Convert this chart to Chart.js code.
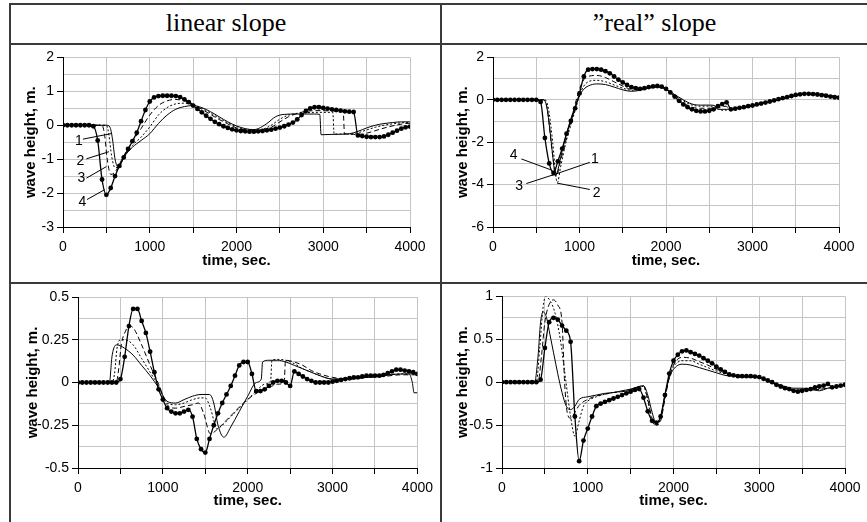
<!DOCTYPE html>
<html lang="en">
<head>
<meta charset="UTF-8" />
<title>wave height</title>
<script src="https://cdn.jsdelivr.net/npm/chart.js@4"></script>
<style>
body{margin:0;background:#fff;width:867px;height:522px;overflow:hidden;position:relative;font-family:"Liberation Sans",Arial,sans-serif}
.ln{position:absolute;background:#3a3a3a}
.hd{position:absolute;top:4px;height:38px;line-height:38px;text-align:center;font-family:"Liberation Serif","Times New Roman",serif;font-size:26px;color:#000}
.pn{position:absolute}
</style>
</head>
<body>
<div class="hd" style="left:11px;width:430px">linear slope</div>
<div class="hd" style="left:442px;width:425px">”real” slope</div>

<div class="ln" style="left:9px;top:3px;width:858px;height:2px"></div>
<div class="ln" style="left:9px;top:3px;width:2px;height:519px"></div>
<div class="ln" style="left:9px;top:43px;width:858px;height:2px"></div>
<div class="ln" style="left:440px;top:3px;width:2px;height:519px"></div>
<div class="ln" style="left:9px;top:282px;width:858px;height:2px"></div>

<div class="pn" style="left:12px;top:46px;width:427px;height:235px"><canvas id="c1"></canvas></div>
<div class="pn" style="left:443px;top:46px;width:424px;height:235px"><canvas id="c2"></canvas></div>
<div class="pn" style="left:12px;top:285px;width:427px;height:237px"><canvas id="c3"></canvas></div>
<div class="pn" style="left:443px;top:285px;width:424px;height:237px"><canvas id="c4"></canvas></div>

<script>
// time grid of the dotted curve (series 4), sec.
const time50 = [0,50,100,150,200,250,300,350,400,450,500,550,600,650,700,750,800,850,900,950,
  1000,1050,1100,1150,1200,1250,1300,1350,1400,1450,1500,1550,1600,1650,1700,1750,1800,1850,1900,1950,
  2000,2050,2100,2150,2200,2250,2300,2350,2400,2450,2500,2550,2600,2650,2700,2750,2800,2850,2900,2950,
  3000,3050,3100,3150,3200,3250,3300,3350,3400,3450,3500,3550,3600,3650,3700,3750,3800,3850,3900,3950,4000];

// ---- linear slope, top
const p1t1 = [0,500,540,570,600,640,700,800,900,1000,1100,1200,1300,1400,1500,1600,1700,1800,1900,2000,2100,2200,2250,2350,2450,2550,2700,2900,2960,2975,3100,3300,3400,3500,3600,3700,3800,3900,4000];
const p1y1 = [0,0,-0.05,-0.4,-1.0,-1.25,-0.95,-0.65,-0.45,-0.25,0.05,0.3,0.47,0.55,0.58,0.52,0.4,0.25,0.1,-0.02,-0.1,-0.13,-0.1,0.05,0.25,0.32,0.33,0.33,0.32,-0.28,-0.27,-0.25,-0.18,-0.08,0,0.05,0.08,0.1,0.1];
const p1t2 = [0,500,530,560,600,640,700,800,900,1000,1100,1200,1300,1400,1500,1600,1700,1800,1900,2000,2100,2200,2300,2400,2500,2600,2700,2800,2900,3000,3110,3125,3300,3400,3500,3600,3700,3800,3900,4000];
const p1y2 = [0,0,-0.3,-0.9,-1.25,-1.25,-0.95,-0.6,-0.35,-0.05,0.3,0.52,0.63,0.65,0.6,0.5,0.36,0.21,0.07,-0.04,-0.12,-0.15,-0.12,0,0.18,0.3,0.35,0.37,0.38,0.38,0.38,-0.26,-0.26,-0.22,-0.14,-0.06,0,0.04,0.07,0.08];
const p1t3 = [0,450,480,510,550,600,700,800,900,1000,1100,1200,1300,1400,1500,1600,1700,1800,1900,2000,2100,2200,2300,2400,2500,2600,2700,2800,2900,3000,3100,3230,3245,3350,3450,3550,3650,3750,3850,3950,4000];
const p1y3 = [0,0,-0.3,-1.0,-1.45,-1.38,-0.9,-0.5,-0.1,0.3,0.58,0.72,0.76,0.72,0.62,0.47,0.32,0.17,0.04,-0.08,-0.14,-0.17,-0.15,-0.06,0.1,0.25,0.35,0.41,0.43,0.43,0.42,0.4,-0.25,-0.27,-0.26,-0.2,-0.12,-0.05,0.01,0.05,0.06];
const p1y4 = [0,0,0,0,0,0,0,-0.03,-0.45,-1.6,
  -2.05,-1.85,-1.5,-1.2,-0.95,-0.7,-0.47,-0.22,0.12,0.45,
  0.7,0.82,0.86,0.87,0.87,0.87,0.86,0.83,0.76,0.68,
  0.58,0.48,0.38,0.28,0.19,0.1,0.03,-0.03,-0.08,-0.12,
  -0.15,-0.17,-0.18,-0.19,-0.19,-0.18,-0.17,-0.15,-0.13,-0.1,
  -0.07,-0.03,0.02,0.08,0.17,0.3,0.42,0.5,0.53,0.53,
  0.51,0.49,0.47,0.45,0.43,0.41,0.4,0.39,-0.3,-0.32,
  -0.34,-0.35,-0.35,-0.35,-0.33,-0.28,-0.22,-0.16,-0.1,-0.06,
  -0.04];

// ---- real slope, top
const p2t1 = [0,580,620,660,700,720,750,800,850,900,950,1000,1050,1100,1200,1300,1400,1500,1600,1700,1800,1900,2000,2100,2200,2300,2400,2500,2560,2600,2700,2800,2900,3000,3200,3400,3600,3800,4000];
const p2y1 = [0,0,-0.3,-1.5,-3.0,-3.6,-3.3,-2.4,-1.6,-0.9,-0.3,0.2,0.5,0.65,0.75,0.72,0.6,0.47,0.4,0.45,0.55,0.6,0.5,0.25,0,-0.2,-0.25,-0.25,-0.27,-0.45,-0.45,-0.4,-0.33,-0.28,-0.1,0.1,0.28,0.25,0.12];
const p2t2 = [0,600,640,690,730,745,780,850,900,950,1000,1050,1100,1200,1300,1400,1500,1600,1700,1800,1900,2000,2100,2200,2300,2400,2500,2600,2650,2750,2900,3000,3200,3400,3600,3800,4000];
const p2y2 = [0,0,-0.4,-2.0,-3.7,-3.9,-3.2,-1.9,-1.2,-0.5,0.2,0.65,0.85,0.92,0.85,0.7,0.55,0.45,0.48,0.55,0.6,0.5,0.2,-0.05,-0.25,-0.3,-0.3,-0.32,-0.5,-0.45,-0.35,-0.28,-0.1,0.1,0.28,0.25,0.12];
const p2t3 = [0,590,630,680,720,740,780,850,900,950,1000,1050,1100,1200,1300,1400,1500,1600,1700,1800,1900,2000,2100,2200,2300,2400,2500,2600,2700,2720,2800,2900,3000,3200,3400,3600,3800,4000];
const p2y3 = [0,0,-0.5,-2.3,-3.4,-3.5,-2.9,-1.8,-1.0,-0.2,0.5,0.95,1.1,1.15,1.05,0.85,0.65,0.5,0.5,0.58,0.62,0.5,0.15,-0.15,-0.35,-0.4,-0.4,-0.38,-0.3,-0.45,-0.42,-0.35,-0.28,-0.1,0.1,0.28,0.25,0.12];
const p2y4 = [0,0,0,0,0,0,0,0,0,0,
  0,-0.1,-1.8,-3.0,-3.45,-2.9,-2.3,-1.6,-1.0,-0.4,
  0.3,1.1,1.42,1.45,1.45,1.42,1.35,1.25,1.1,0.95,
  0.82,0.7,0.6,0.55,0.52,0.55,0.6,0.63,0.65,0.62,
  0.52,0.35,0.15,-0.05,-0.22,-0.35,-0.45,-0.52,-0.55,-0.55,
  -0.52,-0.45,-0.3,-0.2,-0.12,-0.45,-0.42,-0.38,-0.35,-0.3,
  -0.27,-0.22,-0.18,-0.13,-0.08,-0.03,0.03,0.08,0.13,0.18,
  0.23,0.26,0.28,0.28,0.27,0.25,0.22,0.19,0.15,0.12,
  0.1];

// ---- linear slope, bottom
const p3t1 = [0,370,400,430,460,550,650,750,850,950,1050,1150,1250,1350,1450,1550,1600,1650,1720,1800,1900,2000,2100,2160,2175,2250,2350,2450,2550,2650,2750,2850,3000,3200,3400,3600,3800,3900,3940,3960,4000];
const p3y1 = [0,0,0.15,0.21,0.22,0.2,0.16,0.1,0.04,-0.03,-0.11,-0.12,-0.1,-0.08,-0.07,-0.07,-0.12,-0.25,-0.32,-0.26,-0.17,-0.08,0,0.02,0.12,0.13,0.13,0.12,0.1,0.08,0.06,0.04,0.02,0.02,0.03,0.04,0.05,0.05,0.0,-0.06,-0.06];
const p3t2 = [0,400,430,460,500,550,650,750,850,950,1050,1150,1250,1350,1450,1500,1560,1640,1700,1800,1900,2000,2100,2200,2270,2285,2350,2450,2550,2650,2750,2850,3000,3200,3400,3600,3800,4000];
const p3y2 = [0,0,0.05,0.2,0.25,0.25,0.22,0.14,0.06,-0.02,-0.12,-0.13,-0.12,-0.1,-0.09,-0.09,-0.15,-0.27,-0.25,-0.2,-0.15,-0.1,-0.05,-0.01,0.01,0.13,0.135,0.13,0.11,0.08,0.06,0.04,0.02,0.02,0.03,0.04,0.05,0.05];
const p3t3 = [0,450,480,510,560,600,650,750,850,950,1050,1150,1250,1350,1420,1480,1560,1650,1750,1850,1950,2050,2150,2250,2350,2430,2445,2550,2650,2750,2850,3000,3200,3400,3600,3800,4000];
const p3y3 = [0,0,0.08,0.22,0.3,0.33,0.32,0.22,0.1,-0.01,-0.13,-0.15,-0.14,-0.13,-0.12,-0.18,-0.3,-0.27,-0.22,-0.17,-0.12,-0.08,-0.05,-0.03,-0.01,0.0,0.13,0.12,0.1,0.07,0.05,0.03,0.02,0.03,0.035,0.045,0.045];
const p3y4 = [0,0,0,0,0,0,0,0,0,0,
  0.02,0.15,0.33,0.43,0.43,0.36,0.29,0.18,0.06,-0.04,
  -0.1,-0.15,-0.17,-0.18,-0.18,-0.17,-0.16,-0.2,-0.33,-0.39,
  -0.41,-0.33,-0.25,-0.18,-0.12,-0.07,-0.02,0.04,0.1,0.12,
  0.12,0.05,-0.05,-0.05,-0.04,-0.02,0,0.01,0.01,0,
  -0.02,0.065,0.05,0.035,0.02,0.01,0,0,0,0,
  0.005,0.01,0.015,0.02,0.025,0.03,0.03,0.035,0.04,0.04,
  0.04,0.04,0.045,0.055,0.065,0.075,0.075,0.07,0.065,0.06,
  0.05];

// ---- real slope, bottom
const p4t1 = [0,380,420,450,480,520,560,600,650,700,750,800,850,900,1000,1100,1200,1300,1400,1500,1600,1650,1700,1750,1800,1850,1900,1950,2000,2100,2200,2300,2400,2500,2600,2700,2800,2900,3000,3100,3200,3300,3400,3500,3600,3700,3800,3900,4000];
const p4y1 = [0,0,0.3,0.7,0.82,0.75,0.55,0.35,0.1,-0.12,-0.28,-0.32,-0.28,-0.2,-0.17,-0.15,-0.13,-0.12,-0.1,-0.08,-0.05,-0.04,-0.15,-0.35,-0.48,-0.4,-0.15,0.05,0.15,0.21,0.2,0.17,0.14,0.11,0.08,0.07,0.06,0.06,0.05,0.02,-0.02,-0.05,-0.07,-0.07,-0.08,-0.1,-0.07,-0.05,-0.03];
const p4t2 = [0,400,440,480,510,560,620,680,740,800,850,900,950,1000,1100,1200,1300,1400,1500,1600,1650,1700,1750,1800,1850,1900,1950,2000,2100,2200,2300,2400,2500,2600,2700,2800,3000,3200,3400,3600,3800,4000];
const p4y2 = [0,0,0.4,0.88,1.0,0.95,0.8,0.5,0.05,-0.4,-0.63,-0.45,-0.28,-0.22,-0.17,-0.14,-0.12,-0.11,-0.09,-0.05,-0.05,-0.22,-0.45,-0.5,-0.42,-0.18,0.06,0.18,0.25,0.25,0.21,0.17,0.13,0.1,0.08,0.07,0.05,-0.03,-0.09,-0.09,-0.07,-0.03];
const p4t3 = [0,420,460,500,540,600,650,700,730,760,800,850,900,1000,1100,1200,1300,1400,1500,1600,1650,1700,1750,1800,1850,1900,1950,2000,2100,2200,2300,2400,2500,2600,2700,2800,3000,3200,3400,3600,3800,4000];
const p4y3 = [0,0,0.3,0.7,0.88,0.96,0.9,0.7,0.0,-0.35,-0.42,-0.35,-0.27,-0.2,-0.16,-0.14,-0.12,-0.11,-0.09,-0.05,-0.04,-0.2,-0.42,-0.5,-0.45,-0.2,0.05,0.2,0.29,0.28,0.24,0.2,0.15,0.11,0.08,0.07,0.05,-0.03,-0.09,-0.09,-0.07,-0.03];
const p4y4 = [0,0,0,0,0,0,0,0,0,0.03,
  0.4,0.7,0.75,0.73,0.66,0.6,0.47,-0.4,-0.92,-0.68,
  -0.54,-0.4,-0.28,-0.25,-0.23,-0.21,-0.19,-0.17,-0.15,-0.13,
  -0.11,-0.09,-0.08,-0.18,-0.34,-0.45,-0.47,-0.4,-0.15,0.1,
  0.25,0.32,0.36,0.37,0.35,0.33,0.31,0.28,0.25,0.22,
  0.18,0.15,0.12,0.09,0.08,0.07,0.07,0.07,0.07,0.065,
  0.06,0.04,0.02,0,-0.03,-0.05,-0.07,-0.08,-0.1,-0.11,
  -0.1,-0.09,-0.08,-0.06,-0.05,-0.04,-0.02,-0.06,-0.05,-0.04,
  -0.03];

// curve numbers with their leader lines (data units)
const p1NoteLabels = ['1','2','3','4'];
const p1NoteText = [[184,-0.47],[200,-1.05],[212,-1.57],[224,-2.26]];
const p1NoteFrom = [[230,-0.41],[270,-0.99],[270,-1.56],[277,-2.19]];
const p1NoteTo = [[558,-0.245],[530,-0.78],[500,-1.22],[480,-1.9]];
const p2NoteLabels = ['4','1','3','2'];
const p2NoteText = [[240,-2.59],[1177,-2.79],[301,-4.08],[1197,-4.39]];
const p2NoteFrom = [[328,-2.79],[1119,-2.95],[386,-3.95],[1119,-4.23]];
const p2NoteTo = [[687,-3.33],[676,-3.57],[733,-3.49],[741,-3.93]];

const FONT = '"Liberation Sans", Arial, sans-serif';
Chart.defaults.font.family = FONT;
Chart.defaults.color = '#000';

const notePlugin = {
  id: 'notes',
  afterDatasetsDraw(chart, args, opts) {
    if (!opts.labels) return;
    const { ctx } = chart;
    const x = chart.scales.x, y = chart.scales.y;
    ctx.save();
    ctx.strokeStyle = '#000';
    ctx.lineWidth = 1;
    ctx.fillStyle = '#000';
    ctx.font = '14px ' + FONT;
    ctx.textAlign = 'center';
    ctx.textBaseline = 'middle';
    opts.labels.forEach((lab, i) => {
      ctx.beginPath();
      ctx.moveTo(x.getPixelForValue(opts.from[i][0]), y.getPixelForValue(opts.from[i][1]));
      ctx.lineTo(x.getPixelForValue(opts.to[i][0]), y.getPixelForValue(opts.to[i][1]));
      ctx.stroke();
      ctx.fillText(lab, x.getPixelForValue(opts.text[i][0]), y.getPixelForValue(opts.text[i][1]));
    });
    ctx.restore();
  }
};

const dashes = [[], [2, 2], [5, 3], []];

function makeSets(times, values) {
  return values.map((ys, i) => ({
    data: ys.map((v, j) => ({ x: times[i][j], y: v })),
    borderColor: '#000',
    borderWidth: i === 3 ? 1.3 : 1,
    borderDash: dashes[i],
    pointRadius: i === 3 ? 2.4 : 0,
    pointBackgroundColor: '#000',
    pointBorderWidth: 0,
    cubicInterpolationMode: 'monotone',
    fill: false
  }));
}

function isLabel(v, step) {
  const r = v / step;
  return Math.abs(r - Math.round(r)) < 1e-6;
}

function makePanel(id, times, values, p, notes) {
  new Chart(document.getElementById(id), {
    type: 'line',
    data: { datasets: makeSets(times, values) },
    plugins: [notePlugin],
    options: {
      responsive: true,
      maintainAspectRatio: false,
      animation: false,
      layout: { padding: { left: 0, right: p.padR, top: p.padT, bottom: 0 } },
      plugins: { legend: { display: false }, tooltip: { enabled: false }, notes: notes || {} },
      scales: {
        x: {
          type: 'linear', min: 0, max: 4000,
          ticks: { stepSize: 500, autoSkip: false, maxRotation: 0, padding: 6,
            font: { size: 14 }, callback: v => (v % 1000 === 0 ? String(v) : '') },
          grid: { color: '#c4c4c4', tickLength: 6, tickColor: '#000' },
          border: { color: '#000', width: 1 },
          title: { display: true, text: 'time, sec.', font: { size: 15, weight: 'bold' },
            padding: { top: 0, bottom: p.xTitleB } },
          afterFit: s => { s.height = p.xH; }
        },
        y: {
          min: p.yMin, max: p.yMax,
          ticks: { stepSize: p.yStep, autoSkip: false, padding: 3, font: { size: 14 },
            callback: v => (isLabel(v, p.yLab) ? String(+v.toFixed(3)) : '') },
          grid: { color: '#c4c4c4', tickLength: 6,
            tickColor: c => (c.tick && isLabel(c.tick.value, p.yLab) ? '#000' : 'rgba(0,0,0,0)') },
          border: { color: '#000', width: 1 },
          title: { display: true, text: 'wave height, m.', font: { size: 15, weight: 'bold' },
            padding: { top: p.yTitleT, bottom: 0 } },
          afterFit: s => { s.width = p.yW; }
        }
      }
    }
  });
}

makePanel('c1', [p1t1, p1t2, p1t3, time50], [p1y1, p1y2, p1y3, p1y4],
  { yMin: -3, yMax: 2, yStep: 0.5, yLab: 1, yW: 51, padT: 9, padR: 29, xH: 54, xTitleB: 11, yTitleT: 10 },
  { labels: p1NoteLabels, text: p1NoteText, from: p1NoteFrom, to: p1NoteTo });
makePanel('c2', [p2t1, p2t2, p2t3, time50], [p2y1, p2y2, p2y3, p2y4],
  { yMin: -6, yMax: 2, yStep: 1, yLab: 2, yW: 50, padT: 9, padR: 28, xH: 54, xTitleB: 11, yTitleT: 11 },
  { labels: p2NoteLabels, text: p2NoteText, from: p2NoteFrom, to: p2NoteTo });
makePanel('c3', [p3t1, p3t2, p3t3, time50], [p3y1, p3y2, p3y3, p3y4],
  { yMin: -0.5, yMax: 0.5, yStep: 0.125, yLab: 0.25, yW: 66, padT: 12, padR: 19, xH: 54, xTitleB: 12, yTitleT: 12 });
makePanel('c4', [p4t1, p4t2, p4t3, time50], [p4y1, p4y2, p4y3, p4y4],
  { yMin: -1, yMax: 1, yStep: 0.25, yLab: 0.5, yW: 59, padT: 10, padR: 22, xH: 54, xTitleB: 12, yTitleT: 11 });
</script>
</body>
</html>
